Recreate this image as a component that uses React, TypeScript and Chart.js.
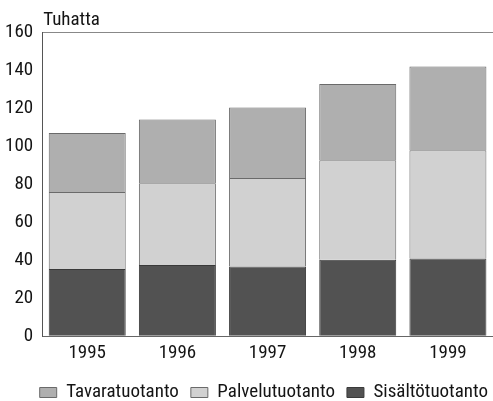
import React, { useEffect, useRef } from "react";
import { Chart, registerables } from "chart.js";

Chart.register(...registerables);

const years = ["1995", "1996", "1997", "1998", "1999"];
const sisalto = [35.3, 37.4, 36.7, 40.2, 40.9];
const palvelu = [40.6, 43.0, 46.5, 52.3, 56.9];
const tavara = [31.0, 33.6, 37.1, 40.2, 44.0];
const yTicks = [0, 20, 40, 60, 80, 100, 120, 140, 160];
const unitLabel = "Tuhatta";

const FONT = "'Liberation Sans Narrow', 'Arial Narrow', 'Noto Sans Condensed', 'Roboto Condensed', 'Noto Sans'";
const STRETCH = "condensed";
const SIZE = 19;
const TEXT = "#141414";

const unitPlugin = {
  id: "unitLabel",
  afterDraw(chart: any) {
    const { ctx, chartArea } = chart;
    ctx.save();
    ctx.font = `${STRETCH} ${SIZE}px ${FONT}`;
    ctx.fillStyle = TEXT;
    ctx.textAlign = "left";
    ctx.textBaseline = "alphabetic";
    ctx.fillText(unitLabel, chartArea.left + 1, chartArea.top - 7);
    ctx.restore();
  },
};

const legendShift = {
  id: "legendShift",
  afterLayout(chart: any) {
    const lg = chart.legend;
    if (lg) {
      lg.left += 7;
      lg.right += 7;
    }
  },
};

export default function App() {
  const ref = useRef<HTMLCanvasElement | null>(null);
  useEffect(() => {
    if (!ref.current) return;
    const font = { family: FONT, size: SIZE, weight: STRETCH as any };
    const chart = new Chart(ref.current, {
      type: "bar",
      data: {
        labels: years,
        datasets: [
          {
            label: "Sisältötuotanto",
            data: sisalto,
            backgroundColor: "#525252",
            borderColor: "#3a3a3a",
            borderWidth: 1,
          },
          {
            label: "Palvelutuotanto",
            data: palvelu,
            backgroundColor: "#d1d1d1",
            borderColor: "#6a6a6a",
            borderWidth: 1,
          },
          {
            label: "Tavaratuotanto",
            data: tavara,
            backgroundColor: "#afafaf",
            borderColor: "#6a6a6a",
            borderWidth: 1,
          },
        ],
      },
      options: {
        responsive: false,
        animation: false,
        layout: { padding: { top: 32, left: -4, right: 0, bottom: 0 } },
        datasets: { bar: { barPercentage: 0.854, categoryPercentage: 1 } },
        scales: {
          x: {
            stacked: true,
            grid: { display: false, drawTicks: false },
            border: { display: true, color: "#666666", width: 1 },
            ticks: { font, color: TEXT, padding: 6 },
          },
          y: {
            stacked: true,
            min: 0,
            max: 160,
            afterBuildTicks(scale: any) {
              scale.ticks = yTicks.map((v) => ({ value: v }));
            },
            grid: {
              drawTicks: false,
              color: (c: any) => (c.tick && c.tick.value === 160 ? "#888888" : "rgba(0,0,0,0)"),
            },
            border: { display: true, color: "#555555", width: 1 },
            ticks: { font, color: TEXT, padding: 9 },
          },
        },
        plugins: {
          legend: {
            position: "bottom",
            align: "end",
            reverse: true,
            labels: {
              font,
              color: TEXT,
              boxWidth: 17,
              boxHeight: 10,
              padding: 12,
            },
          },
          tooltip: { enabled: false },
        },
      },
      plugins: [unitPlugin, legendShift],
    });
    return () => chart.destroy();
  }, []);
  return (
    <div style={{ position: "absolute", left: 0, top: 0, width: 493, height: 401, overflow: "hidden", background: "#fff" }}>
      <canvas ref={ref} width={493} height={412} style={{ display: "block" }} />
    </div>
  );
}
